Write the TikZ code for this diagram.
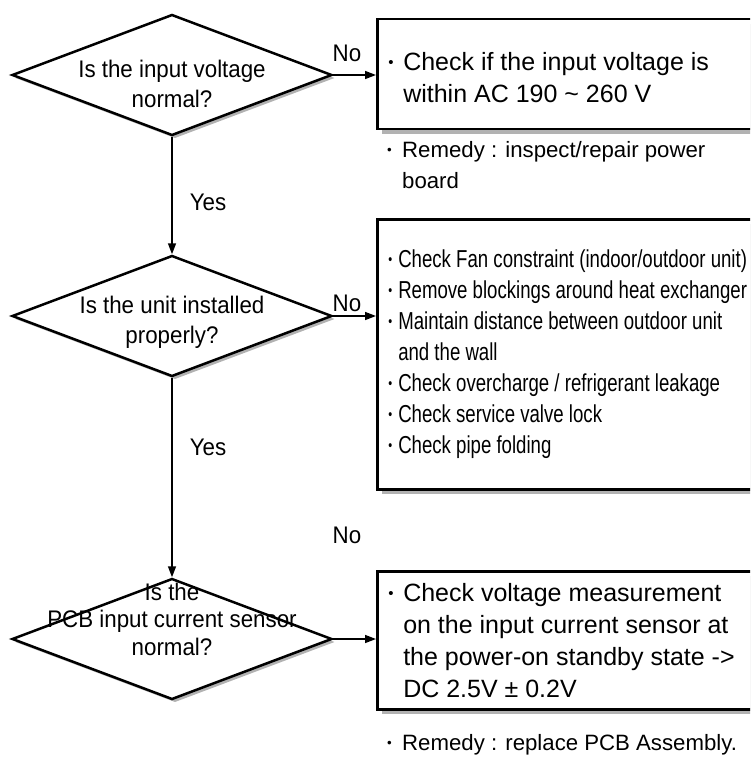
\documentclass[tikz,border=0pt]{standalone}
\usepackage{fontspec}
\usepackage{graphicx}
\setmainfont{Liberation Sans}
\newfontfamily\narrowfont{Liberation Sans}[FakeStretch=0.76]
\newfontfamily\qfont{Liberation Sans}[FakeStretch=0.93]
\usetikzlibrary{arrows.meta, positioning, shapes.geometric, shadows}

\newcommand{\bul}[1][15pt]{\makebox[#1][l]{\raisebox{0.12em}{\scalebox{0.6}{•}}}}
\newcommand{\nobul}[1][15pt]{\hspace*{#1}}

\begin{document}
\begin{tikzpicture}[
    x=1pt, y=-1pt,
    decision/.style={diamond, draw, line width=2.5pt, fill=white, minimum width=320pt, minimum height=121pt, inner sep=0pt,
      drop shadow={shadow xshift=3pt, shadow yshift=-3pt, fill=gray!60, opacity=1}},
    qtext/.style={align=flush center, font=\qfont\fontsize{24}{30}\selectfont},
    action/.style={draw, line width=2.5pt, fill=white, anchor=north west, minimum width=414pt, inner xsep=11pt, text width=392pt, align=flush left,
      drop shadow={shadow xshift=5pt, shadow yshift=-5pt, fill=gray!60, opacity=1}},
    bigtext/.style={font=\fontsize{25}{32}\selectfont},
    smalltext/.style={font=\narrowfont\fontsize{24.5}{31}\selectfont},
    answer/.style={font=\qfont\fontsize{24}{26}\selectfont, inner sep=0pt},
    note/.style={anchor=north west, align=flush left, inner sep=0pt, font=\fontsize{22.2}{31}\selectfont},
    arrow/.style={-{Triangle[length=11pt, width=8pt]}, line width=1.5pt}
  ]
  \useasboundingbox (0,0) rectangle (750,757);
  \clip (0,0) rectangle (750,757);

  % Questions
  \node[decision, label={[qtext, yshift=-9pt]center:{Is the input voltage\\normal?}}] (volt) at (172,75) {};
  \node[decision, label={[qtext, yshift=-6pt]center:{Is the unit installed\\properly?}}] (inst) at (172,316) {};
  \node[decision, label={[qtext, font=\qfont\fontsize{24}{27.5}\selectfont, yshift=20pt]center:{Is the\\PCB input current sensor\\normal?}}] (sens) at (172,639) {};

  % Checks
  \node[action, bigtext, minimum height=110pt] (chkvolt) at (376,18)
    {\rule{0pt}{25pt}\bul Check if the input voltage is\\ \nobul within AC 190 \textasciitilde{} 260 V};
  \node[action, smalltext, minimum height=270pt] (chkinst) at (376,218)
    {\bul[10pt]Check Fan constraint (indoor/outdoor unit)\\
     \bul[10pt]Remove blockings around heat exchanger\\
     \bul[10pt]Maintain distance between outdoor unit\\
     \nobul[10pt]and the wall\\
     \bul[10pt]Check overcharge / refrigerant leakage\\
     \bul[10pt]Check service valve lock\\
     \bul[10pt]Check pipe folding};
  \node[action, bigtext, minimum height=138pt] (chksens) at (376,570)
    {\bul Check voltage measurement\\ \nobul on the input current sensor at\\
     \nobul the power-on standby state ->\\ \nobul DC 2.5V ± 0.2V};

  % Remedies
  \node[note] (remvolt) at (387,141) {\bul Remedy : inspect/repair power\\ \nobul board};
  \node[note] (remsens) at (387,734) {\bul Remedy : replace PCB Assembly.};

  % Yes / No
  \node[answer] (yes1) at (208,202) {Yes};
  \node[answer] (yes2) at (208,447) {Yes};
  \node[answer] (no1) at (347,53) {No};
  \node[answer] (no2) at (347,303) {No};
  \node[answer] (no3) at (347,535) {No};

  % Flow
  \draw[arrow] (volt) -- (inst);
  \draw[arrow] (inst) -- (sens);
  \draw[arrow] (volt.east) -- (volt.east -| chkvolt.west);
  \draw[arrow] (inst.east) -- (inst.east -| chkinst.west);
  \draw[arrow] (sens.east) -- (sens.east -| chksens.west);
\end{tikzpicture}
\end{document}
